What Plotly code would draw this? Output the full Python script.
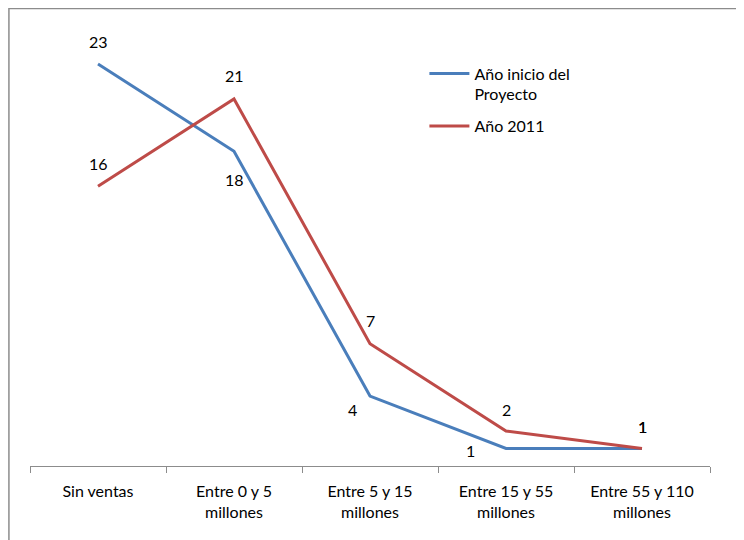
import plotly.graph_objects as go

categories = ["Sin ventas", "Entre 0 y 5<br>millones", "Entre 5 y 15<br>millones",
              "Entre 15 y 55<br>millones", "Entre 55 y 110<br>millones"]
inicio = [23, 18, 4, 1, 1]
anio2011 = [16, 21, 7, 2, 1]
names = ["Año inicio del<br>Proyecto", "Año 2011"]

blue = "#4A7EBB"
red = "#BE4B48"
font = "Lato"
fs = 16

fig = go.Figure()
fig.add_trace(go.Scatter(x=categories, y=inicio, mode="lines", name=names[0],
                         legendgroup="a", line=dict(color=blue, width=3)))
fig.add_trace(go.Scatter(x=categories, y=anio2011, mode="lines", name=names[1],
                         legendgroup="b", line=dict(color=red, width=3)))

blue_shift = [(0, 22), (0, -28), (-18, -13), (-36, -2), (0, 22)]
red_shift = [(0, 23), (0, 23), (0, 23), (0, 22), (0, 22)]
for vals, shifts in ((inicio, blue_shift), (anio2011, red_shift)):
    for c, v, (dx, dy) in zip(categories, vals, shifts):
        fig.add_annotation(x=c, y=v, text=str(v), showarrow=False,
                           xshift=dx, yshift=dy,
                           font=dict(family=font, size=fs, color="#000"))

fig.add_shape(type="rect", xref="paper", yref="paper",
              x0=-0.031, x1=1.2, y0=-0.3, y1=1.047,
              line=dict(color="#8c8c8c", width=1.5), fillcolor="rgba(0,0,0,0)")

fig.update_layout(
    width=736, height=532,
    margin=dict(l=22, r=34, t=21, b=74),
    paper_bgcolor="white", plot_bgcolor="white",
    font=dict(family=font, size=fs, color="#000"),
    showlegend=True,
    legend=dict(x=0.58, y=0.937, xanchor="left", yanchor="top",
                bgcolor="rgba(0,0,0,0)", font=dict(size=fs), valign="top",
                itemwidth=40, tracegroupgap=8),
    xaxis=dict(type="category", range=[-0.5, 4.5], showgrid=False,
               showline=True, linecolor="#8c8c8c", linewidth=1,
               ticks="outside", tickson="boundaries", ticklen=6,
               tickcolor="#8c8c8c", tickfont=dict(size=fs),
               ticklabelstandoff=11),
    yaxis=dict(range=[0, 25], visible=False),
)

fig.write_html("out.html")
